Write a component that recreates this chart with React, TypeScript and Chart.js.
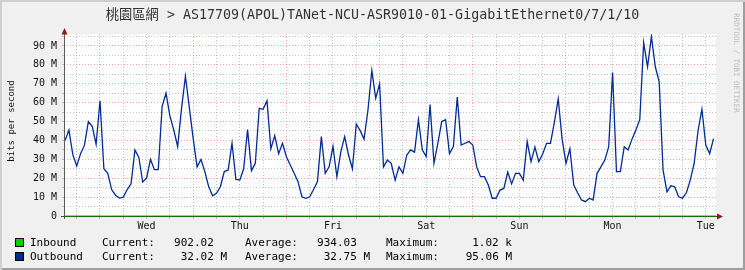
import React, { useEffect, useRef } from "react";
import { Chart, registerables } from "chart.js";

Chart.register(...registerables);

const TITLE = "桃園區網 > AS17709(APOL)TANet-NCU-ASR9010-01-GigabitEthernet0/7/1/10";
const Y_TITLE = "bits per second";
const WATERMARK = "RRDTOOL / TOBI OETIKER";

// day names indexed by floor(hour / 24), hour 0 = Tue 00:00
const DAY_LABELS = ["Tue", "Wed", "Thu", "Fri", "Sat", "Sun", "Mon", "Tue"];
const Y_TICK_LABELS = ["0", "10 M", "20 M", "30 M", "40 M", "50 M", "60 M", "70 M", "80 M", "90 M"];

const X_MIN_HOUR = 14.73;
const X_MAX_HOUR = 182.63;
const Y_MAX_MBPS = 96.35;

const OUT_START_HOUR = 15;
const OUT_STEP_HOURS = 1;
// Outbound, Mbit/s, hourly from Tue 15:00
const OUTBOUND_MBPS = [
  40, 45.5, 32.5, 26.5, 33, 37.5, 50, 47.5, 38, 61,
  25, 22.6, 14, 11, 9.5, 10, 14, 17, 35, 31,
  18, 20, 30, 24.5, 24.5, 58, 65, 53, 45.5, 36.8,
  57, 74, 57.5, 41, 26, 30, 23.5, 15.5, 10.7, 12,
  15.5, 23.5, 24.3, 38.5, 19.4, 19, 25, 45.8, 24, 27.9,
  57, 56.5, 61, 35.6, 42.6, 33, 38.5, 31.4, 27, 22.6,
  18.2, 10.2, 9.4, 10.2, 14, 18.2, 42, 22.6, 26, 36.8,
  20.8, 33.8, 42, 32.3, 25, 48.7, 45.2, 40.7, 56, 77,
  62.3, 70, 26, 29.6, 27.9, 19, 26, 22.6, 32.3, 35,
  33.8, 51, 35, 31.4, 59, 27.9, 38.5, 50, 51, 33,
  36.7, 63, 37.6, 38.5, 39.4, 37.6, 26, 20.8, 20.8, 16.4,
  9.4, 9.4, 13.7, 14.6, 23.2, 17, 22.6, 22.6, 19, 39.4,
  28.8, 36.5, 28.8, 32.8, 38.5, 38.5, 49.6, 62, 40.7, 27.9,
  35.6, 16.4, 12.3, 8.5, 7.6, 9.4, 8.5, 22.6, 26, 29.6,
  36.7, 76, 23.5, 23.5, 36.7, 35, 40.7, 45.5, 51, 91.8,
  79, 95, 79, 71, 24.3, 12.8, 16, 15.5, 10.2, 9.4,
  12.3, 19, 27.9, 45, 56.5, 37.6, 33, 41,
];

const IN_START_HOUR = 15;
const IN_STEP_HOURS = 12;
// Inbound, bit/s
const INBOUND_BPS = [920, 935, 950, 940, 910, 930, 960, 1020, 945, 925, 915, 930, 940, 950, 902];

const LEGEND_NAMES = ["Inbound", "Outbound"];
const LEGEND_COLORS = ["#00CF00", "#002A97"];
const LEGEND_CURRENT = ["902.02  ", "32.02 M"];
const LEGEND_AVERAGE = ["934.03  ", "32.75 M"];
const LEGEND_MAXIMUM = ["1.02 k", "95.06 M"];

const MONO = "'DejaVu Sans Mono', 'Noto Sans CJK TC', monospace";
const MAJOR = "rgba(255,95,95,0.55)";
const MINOR = "rgba(150,150,150,0.55)";

export default function App() {
  const ref = useRef<HTMLCanvasElement>(null);

  useEffect(() => {
    const canvas = ref.current;
    if (!canvas) return;
    const outData = OUTBOUND_MBPS.map((v, i) => ({ x: OUT_START_HOUR + i * OUT_STEP_HOURS, y: v }));
    const inData = INBOUND_BPS.map((v, i) => ({ x: IN_START_HOUR + i * IN_STEP_HOURS, y: v / 1e6 }));

    const frame = {
      id: "rrdframe",
      beforeDraw(c: any) {
        const { ctx, chartArea: a } = c;
        ctx.save();
        ctx.fillStyle = "#ffffff";
        ctx.fillRect(a.left, a.top, a.right - a.left, a.bottom - a.top);
        ctx.restore();
      },
      afterDraw(c: any) {
        const { ctx, chartArea: a } = c;
        ctx.save();
        ctx.lineWidth = 1;
        ctx.strokeStyle = "#5a5a5a";
        ctx.beginPath();
        ctx.moveTo(Math.round(a.left) + 0.5, a.bottom + 3);
        ctx.lineTo(Math.round(a.left) + 0.5, a.top - 2);
        ctx.stroke();
        ctx.strokeStyle = "#1c6a10";
        ctx.beginPath();
        ctx.moveTo(a.left - 3, Math.round(a.bottom) + 0.5);
        ctx.lineTo(a.right + 2, Math.round(a.bottom) + 0.5);
        ctx.stroke();
        ctx.fillStyle = "#8b1a1a";
        ctx.beginPath();
        ctx.moveTo(Math.round(a.left) + 0.5, a.top - 6);
        ctx.lineTo(Math.round(a.left) - 2.5, a.top + 0.5);
        ctx.lineTo(Math.round(a.left) + 3.5, a.top + 0.5);
        ctx.closePath();
        ctx.fill();
        ctx.beginPath();
        ctx.moveTo(a.right + 7, Math.round(a.bottom) + 0.5);
        ctx.lineTo(a.right + 1, Math.round(a.bottom) - 2.5);
        ctx.lineTo(a.right + 1, Math.round(a.bottom) + 3.5);
        ctx.closePath();
        ctx.fill();
        ctx.restore();
      },
    };

    const chart = new Chart(canvas, {
      type: "line",
      data: {
        datasets: [
          {
            label: LEGEND_NAMES[0],
            data: inData,
            borderColor: LEGEND_COLORS[0],
            backgroundColor: LEGEND_COLORS[0],
            borderWidth: 1,
            pointRadius: 0,
            fill: "origin",
          },
          {
            label: LEGEND_NAMES[1],
            data: outData,
            borderColor: LEGEND_COLORS[1],
            borderWidth: 1.3,
            pointRadius: 0,
            tension: 0,
            fill: false,
          },
        ],
      },
      options: {
        animation: false,
        responsive: false,
        devicePixelRatio: 1,
        layout: { padding: { left: 0, top: 34, right: 29, bottom: 0 } },
        plugins: { legend: { display: false }, tooltip: { enabled: false }, title: { display: false } },
        scales: {
          x: {
            type: "linear",
            min: X_MIN_HOUR,
            max: X_MAX_HOUR,
            afterBuildTicks: (s: any) => {
              const t: any[] = [];
              for (let h = Math.ceil(X_MIN_HOUR / 6) * 6; h <= X_MAX_HOUR; h += 6) t.push({ value: h });
              s.ticks = t;
            },
            afterFit: (s: any) => {
              s.height = 54;
            },
            ticks: {
              autoSkip: false,
              maxRotation: 0,
              minRotation: 0,
              padding: 1,
              color: "#111",
              font: { family: "DejaVu Sans Mono", size: 10 },
              callback: (v: any) => (v % 24 === 12 ? DAY_LABELS[Math.floor(v / 24)] : ""),
            },
            grid: {
              color: (ctx: any) => (ctx.tick && ctx.tick.value % 24 === 0 ? MAJOR : MINOR),
              tickColor: (ctx: any) => (ctx.tick && ctx.tick.value % 24 === 0 ? MAJOR : MINOR),
              lineWidth: 1,
              drawTicks: true,
              tickLength: 3,
            },
            border: { display: false, dash: [1, 2] },
          },
          y: {
            type: "linear",
            min: 0,
            max: Y_MAX_MBPS,
            afterBuildTicks: (s: any) => {
              const t: any[] = [];
              for (let m = 0; m <= Y_MAX_MBPS; m += 5) t.push({ value: m });
              s.ticks = t;
            },
            afterFit: (s: any) => {
              s.width = 64;
            },
            ticks: {
              autoSkip: false,
              padding: 5,
              color: "#111",
              font: { family: "DejaVu Sans Mono", size: 10 },
              callback: (v: any) => (v % 10 === 0 ? Y_TICK_LABELS[v / 10] : ""),
            },
            grid: {
              color: (ctx: any) =>
                ctx.tick && ctx.tick.value === 0 ? "rgba(0,0,0,0)" : ctx.tick && ctx.tick.value % 10 === 0 ? MAJOR : MINOR,
              tickColor: (ctx: any) => (ctx.tick && ctx.tick.value % 10 === 0 ? MAJOR : MINOR),
              lineWidth: 1,
              drawTicks: true,
              tickLength: 2,
            },
            border: { display: false, dash: [1, 2] },
          },
        },
      },
      plugins: [frame],
    } as any);

    return () => chart.destroy();
  }, []);

  const rowCenters = [242, 256];
  const txt = (extra: React.CSSProperties): React.CSSProperties => ({
    position: "absolute",
    fontFamily: MONO,
    fontSize: 11,
    lineHeight: "13px",
    whiteSpace: "pre",
    color: "#000",
    ...extra,
  });

  return (
    <div
      style={{
        position: "absolute",
        left: 0,
        top: 0,
        width: 745,
        height: 270,
        background: "#F0F0F0",
        boxShadow: "inset 2px 2px 0 #CFCFCF, inset -2px -2px 0 #9E9E9E",
        overflow: "hidden",
      }}
    >
      <canvas ref={ref} width={745} height={270} style={{ position: "absolute", left: 0, top: 0, width: 745, height: 270 }} />
      <div
        style={{
          position: "absolute",
          left: 0,
          top: 7,
          width: 745,
          textAlign: "center",
          fontFamily: MONO,
          fontSize: 13.3,
          lineHeight: "15px",
          color: "#333",
          whiteSpace: "pre",
        }}
      >
        {TITLE}
      </div>
      <div
        style={{
          position: "absolute",
          left: 11 - 60,
          top: 121 - 6,
          width: 120,
          height: 12,
          lineHeight: "12px",
          textAlign: "center",
          fontFamily: MONO,
          fontSize: 9,
          color: "#111",
          transform: "rotate(-90deg)",
        }}
      >
        {Y_TITLE}
      </div>
      <div
        style={{
          position: "absolute",
          left: 736 - 60,
          top: 63 - 5,
          width: 120,
          height: 10,
          lineHeight: "10px",
          textAlign: "center",
          fontFamily: MONO,
          fontSize: 7.5,
          color: "#bdbdbd",
          transform: "rotate(90deg)",
          whiteSpace: "pre",
        }}
      >
        {WATERMARK}
      </div>
      {LEGEND_NAMES.map((name, i) => {
        const top = rowCenters[i] - 6.5;
        return (
          <React.Fragment key={name}>
            <div
              style={{
                position: "absolute",
                left: 15,
                top: rowCenters[i] - 4.5,
                width: 7,
                height: 7,
                background: LEGEND_COLORS[i],
                border: "1px solid #000",
              }}
            />
            <span style={txt({ left: 30, top })}>{name}</span>
            <span style={txt({ left: 102, top })}>Current:</span>
            <span style={txt({ right: 745 - 227, top })}>{LEGEND_CURRENT[i]}</span>
            <span style={txt({ left: 245, top })}>Average:</span>
            <span style={txt({ right: 745 - 370, top })}>{LEGEND_AVERAGE[i]}</span>
            <span style={txt({ left: 386, top })}>Maximum:</span>
            <span style={txt({ right: 745 - 512, top })}>{LEGEND_MAXIMUM[i]}</span>
          </React.Fragment>
        );
      })}
    </div>
  );
}
